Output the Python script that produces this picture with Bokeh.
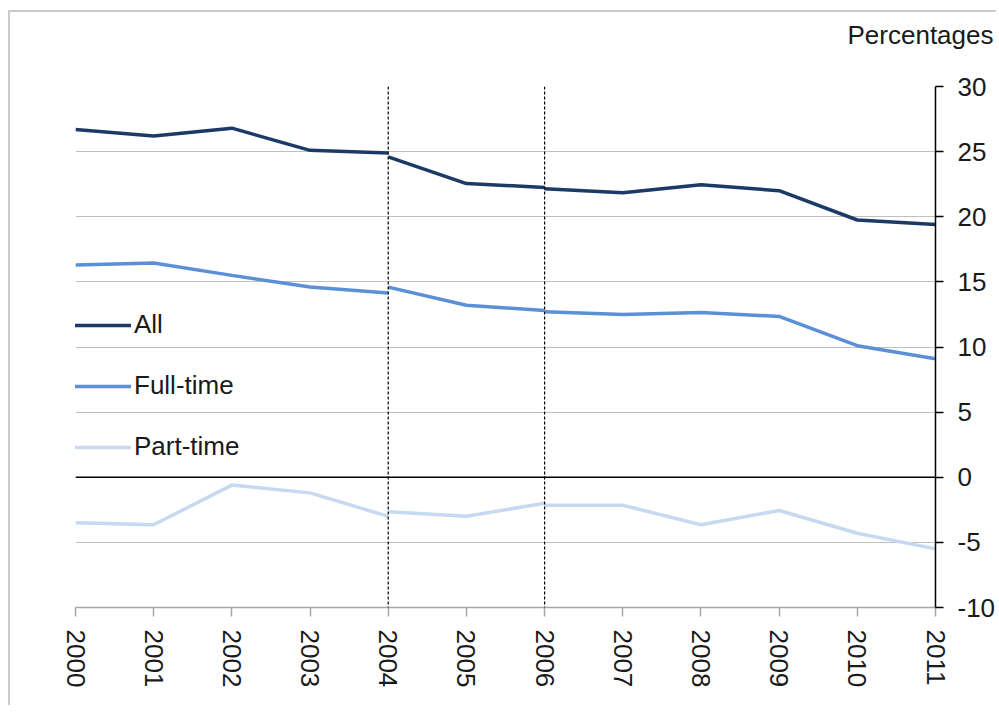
from bokeh.plotting import figure
from bokeh.models import FixedTicker, Span, Legend, LegendItem, Title, PrintfTickFormatter
from bokeh.embed import file_html
from bokeh.resources import INLINE

# Years for the three series segments (breaks in the series at 2004 and 2006)
years_a = [2000, 2001, 2002, 2003, 2004]
years_b = [2004, 2005, 2006]
years_c = [2006, 2007, 2008, 2009, 2010, 2011]
break_years = [2004, 2006]

all_a = [26.7, 26.2, 26.8, 25.1, 24.9]
all_b = [24.6, 22.55, 22.25]
all_c = [22.15, 21.85, 22.45, 22.0, 19.75, 19.4]

full_a = [16.3, 16.45, 15.5, 14.6, 14.15]
full_b = [14.6, 13.2, 12.8]
full_c = [12.7, 12.5, 12.65, 12.35, 10.1, 9.1]

part_a = [-3.5, -3.65, -0.6, -1.2, -3.0]
part_b = [-2.65, -3.0, -2.0]
part_c = [-2.15, -2.15, -3.65, -2.55, -4.3, -5.5]

x_ticks = [2000, 2001, 2002, 2003, 2004, 2005, 2006, 2007, 2008, 2009, 2010, 2011]
y_ticks = [-10, -5, 0, 5, 10, 15, 20, 25, 30]

FONT = "Liberation Sans"
FS = "26px"

p = figure(width=988, height=695, output_backend="svg", toolbar_location=None,
           x_range=(2000, 2011), y_range=(-10, 30), y_axis_location="right",
           min_border_left=65, min_border_right=62, min_border_top=74,
           min_border_bottom=100)
p.outline_line_color = None
p.background_fill_color = "white"
p.border_fill_color = "white"
p.styles = {"border-top": "2px solid #cbcbcb", "border-left": "2px solid #cbcbcb",
            "margin-left": "8px", "margin-top": "10px"}

p.title = Title(text="Percentages", align="right", offset=-58,
                text_font=FONT, text_font_size=FS, text_font_style="normal",
                text_color="#1a1a1a")
p.add_layout(Title(text=" ", text_font_size="18px"), "above")

p.xgrid.grid_line_color = None
p.ygrid.grid_line_color = "#c0c0c0"
p.ygrid.grid_line_width = 1
p.ygrid.ticker = FixedTicker(ticks=y_ticks)

xa = p.xaxis[0]
xa.ticker = FixedTicker(ticks=x_ticks)
xa.major_label_orientation = "vertical"
xa.axis_line_color = "#a6a6a6"
xa.axis_line_width = 1.5
xa.major_tick_line_color = "#a6a6a6"
xa.major_tick_line_width = 1.5
xa.major_tick_in = 0
xa.major_tick_out = 9
xa.minor_tick_line_color = None
xa.major_label_text_font = FONT
xa.major_label_text_font_size = FS
xa.major_label_text_color = "#1a1a1a"
xa.major_label_standoff = 13

ya = p.yaxis[0]
ya.ticker = FixedTicker(ticks=y_ticks)
ya.formatter = PrintfTickFormatter(format="%d")
ya.axis_line_color = "black"
ya.axis_line_width = 1.5
ya.major_tick_line_color = "black"
ya.major_tick_line_width = 1.5
ya.major_tick_in = 0
ya.major_tick_out = 8
ya.minor_tick_line_color = None
ya.major_label_text_font = FONT
ya.major_label_text_font_size = FS
ya.major_label_text_color = "#1a1a1a"
ya.major_label_standoff = 14

p.add_layout(Span(location=0, dimension="width", line_color="black", line_width=1.5))

C_ALL = "#1c3a66"
C_FULL = "#5b8fd6"
C_PART = "#c6d9f1"

series = [
    ("All", C_ALL, [(years_a, all_a), (years_b, all_b), (years_c, all_c)]),
    ("Full-time", C_FULL, [(years_a, full_a), (years_b, full_b), (years_c, full_c)]),
    ("Part-time", C_PART, [(years_a, part_a), (years_b, part_b), (years_c, part_c)]),
]

items = []
for name, col, segs in reversed(series):
    rs = []
    for xs, ys in segs:
        rs.append(p.line(xs, ys, line_color=col, line_width=3.5))
    items.insert(0, LegendItem(label=name, renderers=[rs[0]]))

for by in break_years:
    p.add_layout(Span(location=by, dimension="height", line_color="black",
                      line_width=1.2, line_dash="3 2"))

legend = Legend(items=items, location=(-2, 145), orientation="vertical",
                glyph_width=58, glyph_height=20, label_height=20, spacing=30,
                label_standoff=3, padding=0, margin=0,
                border_line_color=None, background_fill_alpha=0,
                label_text_font=FONT, label_text_font_size=FS,
                label_text_color="#1a1a1a")
p.add_layout(legend, "center")

open("out.html", "w").write(file_html(p, INLINE))
